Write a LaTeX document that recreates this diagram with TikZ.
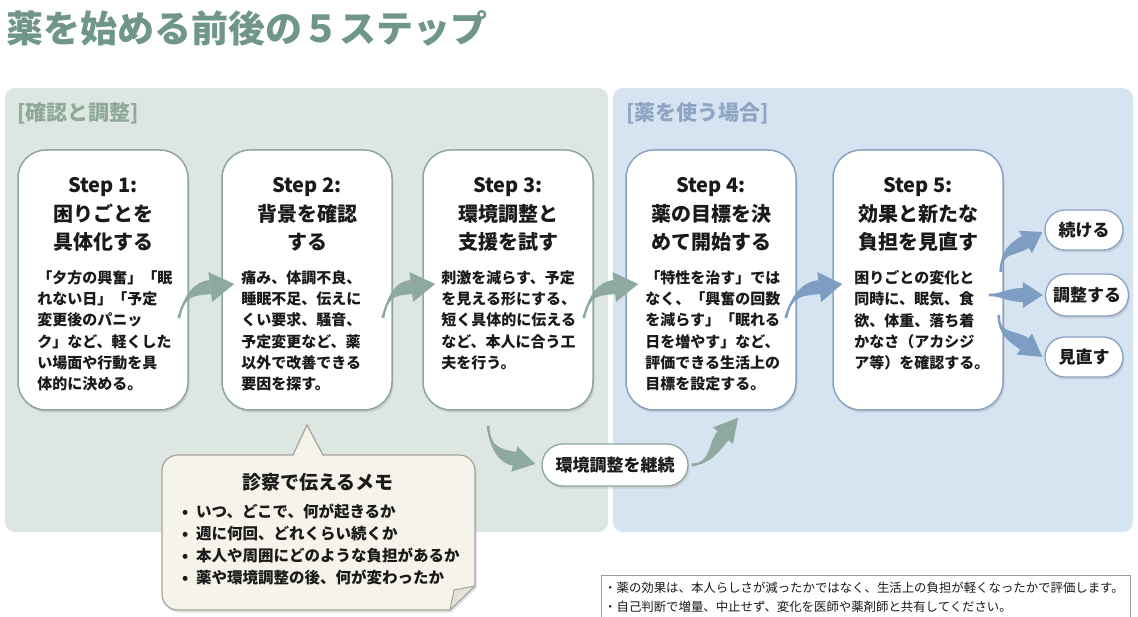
\documentclass[tikz,border=0pt]{standalone}
\usepackage{fontspec}
\setmainfont{Noto Sans CJK JP}
\usetikzlibrary{arrows.meta,calc,shadows}
\definecolor{titlec}{HTML}{6F9688}
\definecolor{panelg}{HTML}{DDE6E0}
\definecolor{panelb}{HTML}{D6E3F0}
\definecolor{labelg}{HTML}{8FA89C}
\definecolor{labelb}{HTML}{8EA6C4}
\definecolor{gline}{HTML}{8DA79B}
\definecolor{bline}{HTML}{8AA3C2}
\definecolor{garrowc}{HTML}{8EAAA0}
\definecolor{barrowc}{HTML}{7E9DC3}
\definecolor{memofill}{HTML}{F6F3EA}
\definecolor{memoline}{HTML}{A5A49C}
\definecolor{memofold}{HTML}{E6E2D6}
\definecolor{notegray}{HTML}{9A9A9A}
\definecolor{textc}{HTML}{1A1A1A}
\newcommand\memoitem[1]{\makebox[14pt][l]{•}#1}
% tapered curved arrow: #1 colour, #2 start, #3 first control (offset from start),
% #4 head base centre, #5 tip, #6 head half width
\newcommand\taperarrow[6]{%
  \coordinate (ta-s) at #2;
  \coordinate (ta-c1) at ($(ta-s)+#3$);
  \coordinate (ta-h) at #4;
  \coordinate (ta-t) at #5;
  \coordinate (ta-c2) at ($(ta-h)!16pt!180:(ta-t)$);
  \fill[#1] ($(ta-s)!1.5pt!90:(ta-c1)$) .. controls (ta-c1) and ($(ta-c2)!7pt!90:(ta-h)$) .. ($(ta-h)!7pt!90:(ta-t)$)
    -- ($(ta-h)!7pt!-90:(ta-t)$) .. controls ($(ta-c2)!7pt!-90:(ta-h)$) and (ta-c1) .. ($(ta-s)!1.5pt!-90:(ta-c1)$) -- cycle;
  \fill[#1] ($(ta-h)!#6!90:(ta-t)$) -- (ta-t) -- ($(ta-h)!#6!-90:(ta-t)$) -- cycle;
}
\begin{document}
\begin{tikzpicture}[x=1pt,y=-1pt,
  softshadow/.style={drop shadow={opacity=0.22, shadow xshift=1.5pt, shadow yshift=-2.5pt}},
  stepbox/.style={draw=#1, line width=1.5pt, fill=white, rounded corners=28pt,
    minimum width=170pt, minimum height=260pt, inner sep=0pt, softshadow},
  steptitle/.style={anchor=north, align=center, inner sep=0pt,
    font=\bfseries\fontsize{20}{28.5}\selectfont, text=textc},
  stepbody/.style={anchor=north west, align=left, inner sep=0pt,
    font=\bfseries\fontsize{15}{21.3}\selectfont, text=textc},
  pill/.style={draw=#1, line width=1.3pt, fill=white, rounded corners=20pt, inner sep=0pt,
    font=\bfseries\fontsize{17}{20}\selectfont, text=textc, softshadow},
  panellabel/.style={anchor=west, inner sep=0pt, font=\bfseries\fontsize{21}{24}\selectfont}
]
\useasboundingbox (0,0) rectangle (1138,617);
\clip (0,0) rectangle (1138,617);

% title
\node[anchor=west, inner sep=0pt, text=titlec, font=\bfseries\fontsize{37}{40}\selectfont]
  (title) at (6,28) {薬を始める前後の５ステップ};

% panels
\fill[panelg, rounded corners=10pt] (5,88) rectangle (608,532);
\fill[panelb, rounded corners=10pt] (613,88) rectangle (1133,532);
\node[panellabel, text=labelg] (lblg) at (17,113) {[確認と調整]};
\node[panellabel, text=labelb] (lblb) at (626,113) {[薬を使う場合]};

% step boxes
\node[stepbox=gline] (s1) at (103,280) {};
\node[stepbox=gline] (s2) at (307,280) {};
\node[stepbox=gline] (s3) at (508,280) {};
\node[stepbox=bline] (s4) at (711,280) {};
\node[stepbox=bline] (s5) at (918,280) {};

\node[steptitle] (t1) at ($(s1.north)+(0,28)$) {Step 1:\\困りごとを\\具体化する};
\node[steptitle] (t2) at ($(s2.north)+(0,28)$) {Step 2:\\背景を確認\\する};
\node[steptitle] (t3) at ($(s3.north)+(0,28)$) {Step 3:\\環境調整と\\支援を試す};
\node[steptitle] (t4) at ($(s4.north)+(0,28)$) {Step 4:\\薬の目標を決\\めて開始する};
\node[steptitle] (t5) at ($(s5.north)+(0,28)$) {Step 5:\\効果と新たな\\負担を見直す};

\node[stepbody] (b1) at ($(s1.north west)+(20,121)$) {「夕方の興奮」「眠\\れない日」「予定\\変更後のパニッ\\ク」など、軽くした\\い場面や行動を具\\体的に決める。};
\node[stepbody] (b2) at ($(s2.north west)+(20,121)$) {痛み、体調不良、\\睡眠不足、伝えに\\くい要求、騒音、\\予定変更など、薬\\以外で改善できる\\要因を探す。};
\node[stepbody] (b3) at ($(s3.north west)+(19,121)$) {刺激を減らす、予定\\を見える形にする、\\短く具体的に伝える\\など、本人に合う工\\夫を行う。};
\node[stepbody] (b4) at ($(s4.north west)+(20,121)$) {「特性を治す」では\\なく、「興奮の回数\\を減らす」「眠れる\\日を増やす」など、\\評価できる生活上の\\目標を設定する。};
\node[stepbody] (b5) at ($(s5.north west)+(22,121)$) {困りごとの変化と\\同時に、眠気、食\\欲、体重、落ち着\\かなさ（アカシジ\\ア等）を確認する。};

% outcome pills
\node[pill=bline, minimum width=78pt, minimum height=40pt] (o1) at (1084,230) {続ける};
\node[pill=bline, minimum width=83pt, minimum height=42pt, rounded corners=21pt] (o2) at (1087,295) {調整する};
\node[pill=bline, minimum width=78pt, minimum height=40pt] (o3) at (1084,357) {見直す};

% keep-adjusting pill
\node[pill=gline, minimum width=146pt, minimum height=42pt, rounded corners=21pt] (keep) at (615,465) {環境調整を継続};

% arrows between steps
\taperarrow{garrowc}{($(s1.east)+(-10,38)$)}{(6,-24)}{($(s2.west)+(-11,7)$)}{($(s2.west)+(13,4)$)}{15pt}
\taperarrow{garrowc}{($(s2.east)+(-10,38)$)}{(6,-24)}{($(s3.west)+(-11,7)$)}{($(s3.west)+(13,4)$)}{15pt}
\taperarrow{garrowc}{($(s3.east)+(-10,38)$)}{(6,-24)}{($(s4.west)+(-11,7)$)}{($(s4.west)+(13,4)$)}{15pt}
\taperarrow{barrowc}{($(s4.east)+(-11,38)$)}{(6,-24)}{($(s5.west)+(-13,7)$)}{($(s5.west)+(10,4)$)}{15pt}

% step 5 to outcomes
\taperarrow{barrowc}{($(s5.east)+(-3,-8)$)}{(0,-20)}{($(o1.west)+(-19,12)$)}{($(o1.west)+(-2,2)$)}{13pt}
\taperarrow{barrowc}{($(s5.east)+(-15,15)$)}{(10,0)}{($(o2.west)+(-22,0)$)}{($(o2.west)+(-2,0)$)}{13pt}
\taperarrow{barrowc}{($(s5.east)+(-5,35)$)}{(0,20)}{($(o3.west)+(-20,-13)$)}{($(o3.west)+(-2,0)$)}{13pt}

% step 3 -> keep -> step 4
\taperarrow{garrowc}{($(s3.south)+(-20,15)$)}{(2,22)}{($(keep.west)+(-27,-6)$)}{($(keep.west)+(-6,-1)$)}{13pt}
\taperarrow{garrowc}{($(keep.east)+(3,0)$)}{(20,-2)}{($(s4.south)+(12,25)$)}{($(s4.south)+(27,7)$)}{13pt}

% memo callout
\path[draw=memoline, fill=memofill, line width=1.2pt, softshadow]
  (178,455) -- (293,455) -- (307,425) -- (323,455) -- (459,455)
  .. controls (468,455) and (475,462) .. (475,471) -- (475,586) -- (450,610)
  -- (178,610) .. controls (169,610) and (162,603) .. (162,594) -- (162,471)
  .. controls (162,462) and (169,455) .. (178,455) -- cycle;
\path[draw=memoline, fill=memofold, line width=1pt, line join=round]
  (475,586) -- (454,590) -- (450,610) -- cycle;
\node[inner sep=0pt, text=textc, font=\bfseries\fontsize{19}{22}\selectfont] (memotitle) at (318,482) {診察で伝えるメモ};
\node[anchor=north west, align=left, inner sep=0pt, text=textc, font=\bfseries\fontsize{15.5}{22}\selectfont]
  (memolist) at (182,504) {\memoitem{いつ、どこで、何が起きるか}\\\memoitem{週に何回、どれくらい続くか}\\\memoitem{本人や周囲にどのような負担があるか}\\\memoitem{薬や環境調整の後、何が変わったか}};

% note box
\node[draw=notegray, fill=white, line width=0.8pt, anchor=north west, minimum width=529pt, minimum height=60pt, inner sep=0pt] (notebox) at (601,575) {};
\node[anchor=north west, align=left, inner sep=0pt, text=textc, font=\fontsize{12.4}{19}\selectfont]
  (notetext) at ($(notebox.north west)+(3,7)$) {・薬の効果は、本人らしさが減ったかではなく、生活上の負担が軽くなったかで評価します。\\・自己判断で増量、中止せず、変化を医師や薬剤師と共有してください。};
\end{tikzpicture}
\end{document}
